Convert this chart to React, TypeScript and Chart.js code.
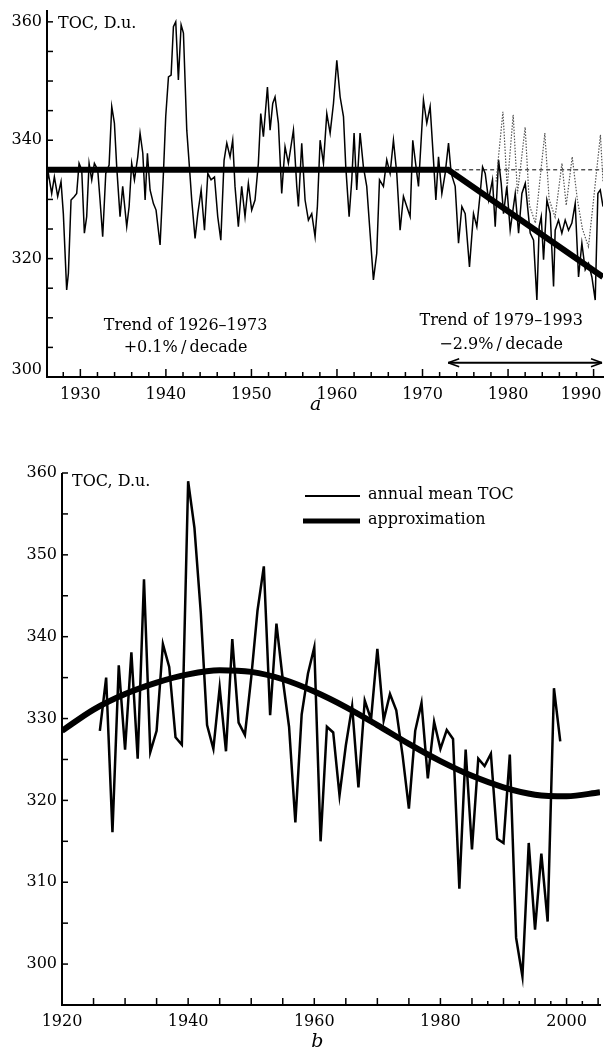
import React, { useEffect, useRef } from "react";
import { Chart, registerables } from "chart.js";
Chart.register(...registerables);

const FONT = '"DejaVu Serif", "Liberation Serif", serif';

// ---------- Panel a : TOC series (D.u.) ----------
const aYears = [
  1926.1, 1926.26, 1926.65, 1926.96, 1927.35, 1927.74, 1928.01, 1928.4, 1928.6, 1928.91,
  1929.3, 1929.57, 1929.85, 1930.16, 1930.47, 1930.74, 1931.02, 1931.33, 1931.64, 1932.03,
  1932.3, 1932.61, 1932.97, 1933.36, 1933.67, 1933.98, 1934.25, 1934.64, 1934.95, 1935.42,
  1935.7, 1936.0, 1936.32, 1936.71, 1936.98, 1937.3, 1937.57, 1937.84, 1938.15, 1938.54,
  1938.85, 1939.32, 1939.71, 1939.98, 1940.3, 1940.61, 1940.88, 1941.15, 1941.46, 1941.78,
  1942.05, 1942.44, 1942.75, 1943.02, 1943.41, 1943.73, 1944.12, 1944.51, 1944.9, 1945.28,
  1945.68, 1946.06, 1946.42, 1946.8, 1947.12, 1947.5, 1947.81, 1948.08, 1948.47, 1948.86,
  1949.25, 1949.64, 1950.03, 1950.42, 1950.81, 1951.09, 1951.4, 1951.87, 1952.18, 1952.49,
  1952.76, 1953.15, 1953.54, 1953.93, 1954.32, 1954.91, 1955.3, 1955.49, 1955.88, 1956.27,
  1956.66, 1957.05, 1957.44, 1957.71, 1958.03, 1958.42, 1958.81, 1959.2, 1959.59, 1959.98,
  1960.37, 1960.76, 1961.03, 1961.42, 1961.73, 1962.0, 1962.31, 1962.7, 1963.09, 1963.48,
  1963.87, 1964.26, 1964.65, 1964.97, 1965.43, 1965.82, 1966.21, 1966.6, 1966.99, 1967.38,
  1967.77, 1968.16, 1968.55, 1968.86, 1969.2, 1969.53, 1969.84, 1970.11, 1970.5, 1970.89,
  1971.28, 1971.56, 1971.87, 1972.26, 1972.65, 1973.04, 1973.35, 1973.82, 1974.21, 1974.6,
  1974.99, 1975.49, 1975.96, 1976.35, 1976.74, 1977.02, 1977.33, 1977.72, 1978.18, 1978.5,
  1978.89, 1979.2, 1979.47, 1979.86, 1980.25, 1980.84, 1981.23, 1981.62, 1982.01, 1982.59,
  1982.98, 1983.37, 1983.64, 1983.88, 1984.15, 1984.54, 1984.93, 1985.32, 1985.51, 1985.9,
  1986.29, 1986.68, 1987.07, 1987.46, 1987.85, 1988.24, 1988.63, 1989.02, 1989.41, 1989.8,
  1990.19, 1990.5, 1990.78, 1991.1,
];
const aToc = [
  333.0, 334.4, 331.0, 333.8, 330.5, 333.0, 327.6, 314.7, 317.5, 329.9,
  330.5, 331.0, 336.1, 335.0, 324.3, 327.1, 336.1, 333.3, 336.1, 335.0,
  329.9, 323.7, 334.4, 335.8, 345.7, 342.9, 335.5, 327.1, 332.2, 325.4,
  328.8, 336.1, 333.3, 337.2, 341.2, 337.8, 329.9, 337.8, 331.6, 329.3,
  328.2, 322.3, 334.4, 344.0, 350.7, 351.0, 359.2, 360.0, 350.2, 359.5,
  358.1, 341.7, 335.5, 329.9, 323.4, 327.6, 331.6, 324.8, 334.4, 333.3,
  333.8, 327.1, 323.1, 336.6, 339.5, 337.2, 340.0, 332.2, 325.4, 332.2,
  327.1, 332.7, 328.2, 329.9, 336.1, 344.5, 340.6, 349.0, 341.7, 346.2,
  347.3, 342.9, 331.0, 338.9, 336.1, 341.7, 332.2, 328.8, 339.5, 329.9,
  326.5, 327.6, 323.7, 328.8, 340.0, 336.1, 344.5, 341.2, 346.2, 353.5,
  347.3, 344.0, 335.5, 327.1, 333.3, 341.2, 331.6, 341.2, 335.5, 332.2,
  324.3, 316.4, 320.9, 333.3, 332.2, 336.7, 334.4, 340.0, 334.4, 324.8,
  330.5, 328.8, 327.1, 340.0, 336.0, 332.2, 340.0, 346.8, 342.9, 345.7,
  336.7, 329.9, 337.2, 331.0, 334.4, 339.5, 334.4, 332.2, 322.6, 328.8,
  327.6, 318.6, 327.6, 325.4, 331.0, 335.5, 334.4, 329.9, 333.3, 325.4,
  336.7, 332.7, 327.6, 332.2, 324.8, 331.0, 324.3, 331.0, 332.7, 324.3,
  323.1, 313.0, 325.4, 327.1, 319.8, 329.9, 327.6, 315.3, 324.8, 326.5,
  324.3, 326.5, 324.8, 326.0, 329.3, 316.9, 322.6, 318.1, 319.2, 316.9,
  313.0, 331.0, 331.6, 328.8,
];
// dotted grey series (1978–1991)
const aDotYears = [1978.6, 1979.4, 1979.9, 1980.6, 1981.1, 1982.0, 1982.5, 1983.2, 1984.3, 1984.8, 1985.5, 1986.3, 1986.8, 1987.5, 1988.1, 1988.7, 1989.4, 1990.0, 1990.8, 1991.1];
const aDotValues = [333, 344.8, 332, 344.3, 331, 342.2, 329, 326, 341.2, 330, 327, 336.1, 329, 337.2, 330, 325, 322, 330, 340.9, 333];
// piecewise trend
const aTrendYears = [1926.1, 1973, 1991.1];
const aTrendValues = [335, 335, 316.9];
// dashed continuation of the early trend
const aRefYears = [1973, 1991.1];
const aRefValues = [335, 335];
const aXTicks = [1930, 1940, 1950, 1960, 1970, 1980, 1990];
const aYTicks = [300, 320, 340, 360];

// ---------- Panel b : annual mean TOC ----------
const bYears = [
  1926, 1927, 1928, 1929, 1930, 1931, 1932, 1933, 1934, 1935,
  1936, 1937, 1938, 1939, 1940, 1941, 1942, 1943, 1944, 1945,
  1946, 1947, 1948, 1949, 1950, 1951, 1952, 1953, 1954, 1955,
  1956, 1957, 1958, 1959, 1960, 1961, 1962, 1963, 1964, 1965,
  1966, 1967, 1968, 1969, 1970, 1971, 1972, 1973, 1974, 1975,
  1976, 1977, 1978, 1979, 1980, 1981, 1982, 1983, 1984, 1985,
  1986, 1987, 1988, 1989, 1990, 1991, 1992, 1993, 1994, 1995,
  1996, 1997, 1998, 1999,
];
const bToc = [
  328.5, 335.0, 316.1, 336.5, 326.2, 338.1, 325.1, 347.0, 325.9, 328.5,
  339.1, 336.3, 327.7, 326.8, 359.0, 353.3, 343.0, 329.2, 326.3, 333.8,
  326.0, 339.7, 329.5, 328.0, 335.0, 343.2, 348.6, 330.4, 341.6, 334.8,
  329.0, 317.3, 330.5, 335.5, 338.7, 315.0, 329.0, 328.3, 320.6, 326.7,
  331.5, 321.6, 332.2, 329.9, 338.5, 329.8, 333.0, 331.0, 325.5, 319.0,
  328.5, 331.9, 322.7, 329.6, 326.3, 328.6, 327.5, 309.2, 326.2, 314.0,
  325.1, 324.2, 325.7, 315.3, 314.8, 325.6, 303.2, 298.5, 314.8, 304.2,
  313.5, 305.2, 333.7, 327.2,
];
const bFitYears = [1920, 1925, 1930, 1935, 1940, 1945, 1950, 1955, 1960, 1965, 1970, 1975, 1980, 1985, 1990, 1995, 2000, 2005.3];
const bFitValues = [328.5, 331.1, 333.0, 334.4, 335.4, 335.9, 335.7, 334.8, 333.3, 331.4, 329.2, 326.9, 324.8, 323.0, 321.6, 320.7, 320.5, 321.0];
const bXTicks = [1920, 1940, 1960, 1980, 2000];
const bYTicks = [300, 310, 320, 330, 340, 350, 360];

function pts(xs: number[], ys: number[]) {
  return xs.map((x, i) => ({ x, y: ys[i] }));
}

function seg(ctx: CanvasRenderingContext2D, x1: number, y1: number, x2: number, y2: number) {
  ctx.beginPath();
  ctx.moveTo(x1, y1);
  ctx.lineTo(x2, y2);
  ctx.stroke();
}

const topDecor = {
  id: "topDecor",
  afterDatasetsDraw(chart: any) {
    const { ctx, chartArea: ca, scales } = chart;
    const x = scales.x;
    const y = scales.y;
    ctx.save();
    ctx.strokeStyle = "#000";
    ctx.fillStyle = "#000";
    ctx.lineWidth = 2;
    ctx.beginPath();
    ctx.moveTo(ca.left, ca.top);
    ctx.lineTo(ca.left, ca.bottom);
    ctx.lineTo(ca.right + 1, ca.bottom);
    ctx.stroke();
    ctx.lineWidth = 1.5;
    for (let yr = 1928; yr <= 1990; yr += 2) {
      const px = x.getPixelForValue(yr);
      seg(ctx, px, ca.bottom, px, ca.bottom - (yr % 10 === 0 ? 8 : 5));
    }
    for (let v = 305; v <= 360; v += 5) {
      const py = y.getPixelForValue(v);
      seg(ctx, ca.left, py, ca.left + 6, py);
    }
    ctx.font = `16px ${FONT}`;
    ctx.textAlign = "center";
    ctx.textBaseline = "top";
    aXTicks.forEach((t, i) => {
      let px = x.getPixelForValue(t);
      if (i === aXTicks.length - 1) px = Math.min(px, ca.right - 22);
      ctx.fillText(String(t), px, ca.bottom + 10);
    });
    ctx.textAlign = "right";
    ctx.textBaseline = "middle";
    aYTicks.forEach((t) => {
      let py = y.getPixelForValue(t);
      if (t === aYTicks[0]) py -= 7;
      ctx.fillText(String(t), ca.left - 5, py);
    });
    ctx.textAlign = "left";
    ctx.textBaseline = "alphabetic";
    ctx.fillText("TOC, D.u.", ca.left + 11, ca.top + 18);

    ctx.textAlign = "center";
    const lx = x.getPixelForValue(1942.3);
    ctx.fillText("Trend of 1926\u20131973", lx, y.getPixelForValue(307.9));
    ctx.fillText("+0.1%\u2009/\u2009decade", lx, y.getPixelForValue(304.2));
    const rx = x.getPixelForValue(1979.2);
    ctx.fillText("Trend of 1979\u20131993", rx, y.getPixelForValue(308.8));
    ctx.fillText("\u22122.9%\u2009/\u2009decade", rx, y.getPixelForValue(304.7));

    // double arrow
    const ay = y.getPixelForValue(302.4);
    const ax1 = x.getPixelForValue(1973);
    const ax2 = ca.right - 1;
    ctx.lineWidth = 2;
    seg(ctx, ax1, ay, ax2, ay);
    ctx.lineWidth = 1.5;
    seg(ctx, ax1, ay, ax1 + 11, ay - 4);
    seg(ctx, ax1, ay, ax1 + 11, ay + 4);
    seg(ctx, ax2, ay, ax2 - 11, ay - 4);
    seg(ctx, ax2, ay, ax2 - 11, ay + 4);

    ctx.font = `italic 19px ${FONT}`;
    ctx.fillText("a", x.getPixelForValue(1957.5), ca.bottom + 33);
    ctx.restore();
  },
};

const botDecor = {
  id: "botDecor",
  afterDatasetsDraw(chart: any) {
    const { ctx, chartArea: ca, scales } = chart;
    const x = scales.x;
    const y = scales.y;
    ctx.save();
    ctx.strokeStyle = "#000";
    ctx.fillStyle = "#000";
    ctx.lineWidth = 2;
    ctx.beginPath();
    ctx.moveTo(ca.left, ca.top);
    ctx.lineTo(ca.left, ca.bottom);
    ctx.lineTo(ca.right + 1, ca.bottom);
    ctx.stroke();
    ctx.lineWidth = 1.5;
    for (let yr = 1925; yr <= 2005; yr += 5) {
      const px = x.getPixelForValue(yr);
      seg(ctx, px, ca.bottom, px, ca.bottom - 7);
    }
    for (let yr = 1987.5; yr <= 2003; yr += 5) {
      const px = x.getPixelForValue(yr);
      seg(ctx, px, ca.bottom, px, ca.bottom - 4);
    }
    for (let v = 300; v <= 360; v += 5) {
      const py = y.getPixelForValue(v);
      seg(ctx, ca.left, py, ca.left + 6, py);
    }
    ctx.font = `16px ${FONT}`;
    ctx.textAlign = "center";
    ctx.textBaseline = "top";
    bXTicks.forEach((t) => ctx.fillText(String(t), x.getPixelForValue(t), ca.bottom + 9));
    ctx.textAlign = "right";
    ctx.textBaseline = "middle";
    bYTicks.forEach((t) => ctx.fillText(String(t), ca.left - 5, y.getPixelForValue(t)));
    ctx.textAlign = "left";
    ctx.textBaseline = "alphabetic";
    ctx.fillText("TOC, D.u.", ca.left + 10, ca.top + 13);

    // legend
    const l1 = ca.left + 243;
    const l2 = ca.left + 298;
    ctx.lineWidth = 2;
    seg(ctx, l1, ca.top + 23, l2, ca.top + 23);
    ctx.lineWidth = 5;
    seg(ctx, l1 - 2, ca.top + 48, l2, ca.top + 48);
    ctx.textBaseline = "middle";
    ctx.fillText("annual mean TOC", l2 + 8, ca.top + 22);
    ctx.fillText("approximation", l2 + 8, ca.top + 47);

    ctx.textAlign = "center";
    ctx.textBaseline = "alphabetic";
    ctx.font = `italic 19px ${FONT}`;
    ctx.fillText("b", x.getPixelForValue(1960.5), ca.bottom + 42);
    ctx.restore();
  },
};

function baseOptions(xmin: number, xmax: number, ymin: number, ymax: number, padding: any) {
  return {
    responsive: false,
    animation: false as const,
    devicePixelRatio: 1,
    layout: { padding },
    plugins: { legend: { display: false }, tooltip: { enabled: false } },
    elements: { point: { radius: 0 }, line: { tension: 0 } },
    scales: {
      x: { type: "linear" as const, min: xmin, max: xmax, display: false },
      y: { type: "linear" as const, min: ymin, max: ymax, display: false },
    },
  };
}

export default function App() {
  const topRef = useRef<HTMLCanvasElement>(null);
  const botRef = useRef<HTMLCanvasElement>(null);

  useEffect(() => {
    const top = new Chart(topRef.current as HTMLCanvasElement, {
      type: "line",
      data: {
        datasets: [
          { data: pts(aDotYears, aDotValues), borderColor: "#555", borderWidth: 1.2, borderDash: [1.5, 1.5] },
          { data: pts(aRefYears, aRefValues), borderColor: "#000", borderWidth: 1, borderDash: [4, 3] },
          { data: pts(aYears, aToc), borderColor: "#000", borderWidth: 1.5 },
          { data: pts(aTrendYears, aTrendValues), borderColor: "#000", borderWidth: 6, borderCapStyle: "butt" },
        ],
      },
      options: baseOptions(1926.1, 1991.1, 300, 362, { left: 47, right: 1, top: 10, bottom: 38 }) as any,
      plugins: [topDecor],
    });
    const bot = new Chart(botRef.current as HTMLCanvasElement, {
      type: "line",
      data: {
        datasets: [
          { data: pts(bYears, bToc), borderColor: "#000", borderWidth: 2.5, borderJoinStyle: "miter" },
          { data: pts(bFitYears, bFitValues), borderColor: "#000", borderWidth: 6, tension: 0.4, cubicInterpolationMode: "monotone" },
        ],
      },
      options: baseOptions(1920, 2005.3, 295, 360, { left: 62, right: 4, top: 33, bottom: 54 }) as any,
      plugins: [botDecor],
    });
    return () => {
      top.destroy();
      bot.destroy();
    };
  }, []);

  return (
    <div style={{ position: "absolute", left: 0, top: 0, width: 604, height: 1059, background: "#fff" }}>
      <canvas ref={topRef} width={604} height={415} style={{ position: "absolute", left: 0, top: 0 }} />
      <canvas ref={botRef} width={604} height={619} style={{ position: "absolute", left: 0, top: 440 }} />
    </div>
  );
}
